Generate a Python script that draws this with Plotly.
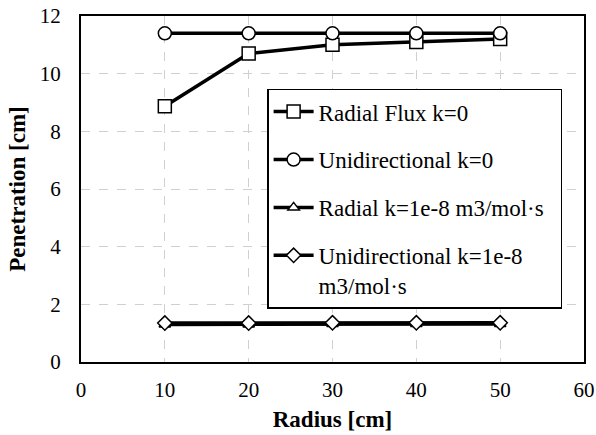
import plotly.graph_objects as go

radius = [10, 20, 30, 40, 50]
radial_flux_k0 = [8.87, 10.7, 11.0, 11.1, 11.2]
unidir_k0 = [11.4, 11.4, 11.4, 11.4, 11.4]
radial_k1e8 = [1.3, 1.3, 1.32, 1.32, 1.32]
unidir_k1e8 = [1.35, 1.35, 1.36, 1.36, 1.36]

names = ["Radial Flux k=0", "Unidirectional k=0", "Radial k=1e-8 m3/mol·s&nbsp;&nbsp;",
         "Unidirectional k=1e-8<br>m3/mol·s"]
symbols = ["square", "circle", "triangle-up", "diamond"]
sizes = [13, 13, 10, 11]
series = [radial_flux_k0, unidir_k0, radial_k1e8, unidir_k1e8]

fig = go.Figure()
for i, (nm, sym, sz, ys) in enumerate(zip(names, symbols, sizes, series)):
    fig.add_trace(go.Scatter(
        x=radius, y=ys, name=nm, mode="lines+markers",
        line=dict(color="black", width=3.5),
        marker=dict(symbol=sym, size=sz, color="white",
                    line=dict(color="black", width=1.5)),
        legendgroup=f"g{i}",
    ))

FF = "Liberation Serif"
fig.update_layout(
    width=596, height=435,
    margin=dict(l=81, r=12, t=16, b=73, autoexpand=False),
    paper_bgcolor="white", plot_bgcolor="white",
    font=dict(family=FF, color="black", size=21),
    showlegend=True,
    legend=dict(
        x=0.37, y=0.79, xanchor="left", yanchor="top",
        bgcolor="white", bordercolor="black", borderwidth=1.5,
        font=dict(family=FF, size=23, color="black"),
        tracegroupgap=15, valign="top", itemwidth=40,
    ),
    xaxis=dict(
        range=[0, 60], tickvals=[0, 10, 20, 30, 40, 50, 60],
        tickfont=dict(family=FF, size=21, color="black"),
        showgrid=True, gridcolor="#d0d0d0", griddash="dash", gridwidth=1,
        showline=True, linecolor="black", linewidth=2, mirror=True,
        ticks="", zeroline=False, ticklabelstandoff=8,
        title=dict(text="<b>Radius [cm]</b>", font=dict(family=FF, size=23, color="black"), standoff=10),
    ),
    yaxis=dict(
        range=[0, 12], tickvals=[0, 2, 4, 6, 8, 10, 12],
        tickfont=dict(family=FF, size=21, color="black"),
        showgrid=True, gridcolor="#d0d0d0", griddash="dash", gridwidth=1,
        showline=True, linecolor="black", linewidth=2, mirror=True,
        ticks="", zeroline=False, ticklabelstandoff=14,
        title=dict(text="<b>Penetration [cm]</b>", font=dict(family=FF, size=23, color="black"), standoff=8),
    ),
)

fig.write_html("out.html", post_script="document.body.style.margin='0';",
               config={"displayModeBar": False})
